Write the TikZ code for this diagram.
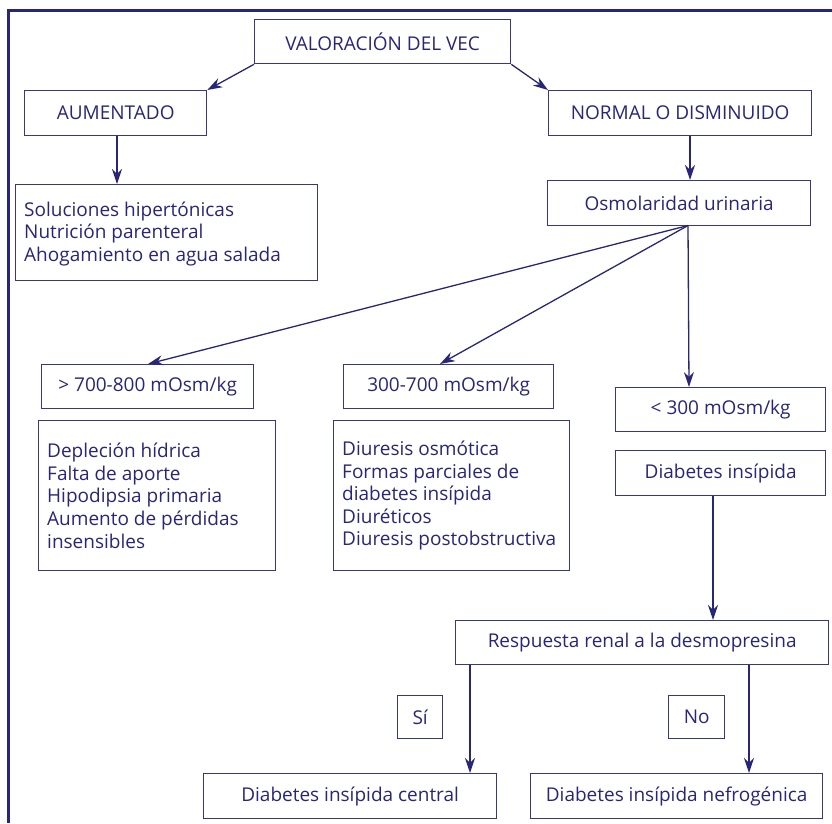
\documentclass[tikz,border=0pt]{standalone}
\usepackage{fontspec}
\setmainfont{Open Sans}
\usetikzlibrary{arrows.meta}
\definecolor{navy}{RGB}{40,38,120}
\definecolor{boxc}{RGB}{55,55,135}
\begin{document}
\begin{tikzpicture}[x=1pt,y=-1pt,
  every node/.style={font=\fontsize{19}{22.6}\selectfont, text=navy},
  bx/.style={draw=boxc, line width=1.3pt, inner sep=0pt, anchor=north west},
  tx/.style={inner sep=0pt, align=left, anchor=west},
  arr/.style={draw=navy, line width=1.3pt, -{Stealth[length=15pt,width=10pt]}}]
\useasboundingbox (0,0) rectangle (832,823);
\draw[navy, line width=3pt] (832,10) -- (8,10) -- (8,823);
% simple boxes: (x1,y1) w h
\node[bx, minimum width=256, minimum height=44] (vec) at (254,19) {VALORACIÓN DEL VEC};
\node[bx, minimum width=182, minimum height=45] (aum) at (24,90) {AUMENTADO};
\node[bx, minimum width=263, minimum height=45] (nor) at (548,90) {NORMAL O DISMINUIDO};
\node[bx, minimum width=263, minimum height=45] (osm) at (547,180) {Osmolaridad urinaria};
\node[bx, minimum width=212, minimum height=44] (h700) at (41,364) {> 700-800 mOsm/kg};
\node[bx, minimum width=210, minimum height=44] (m300) at (343,364) {300-700 mOsm/kg};
\node[bx, minimum width=210, minimum height=44] (l300) at (615,387) {< 300 mOsm/kg};
\node[bx, minimum width=210, minimum height=45] (di) at (615,450) {Diabetes insípida};
\node[bx, minimum width=373, minimum height=44] (resp) at (455,620) {Respuesta renal a la desmopresina};
\node[bx, minimum width=45, minimum height=43] (si) at (397,695) {Sí};
\node[bx, minimum width=56, minimum height=43] (no) at (668,695) {No};
\node[bx, minimum width=293, minimum height=45] (cen) at (203,773) {Diabetes insípida central};
\node[bx, minimum width=292, minimum height=45] (nef) at (530,773) {Diabetes insípida nefrogénica};
% multi-line boxes
\node[bx, minimum width=302, minimum height=96] (sol) at (15,184) {};
\node[tx] (solt) at ([xshift=9pt,yshift=-1pt]sol.west)
  {Soluciones hipertónicas\\Nutrición parenteral\\Ahogamiento en agua salada};
\node[bx, minimum width=237, minimum height=150] (dep) at (38,420) {};
\node[tx] (dept) at ([xshift=9pt]dep.west)
  {Depleción hídrica\\Falta de aporte\\Hipodipsia primaria\\Aumento de pérdidas\\insensibles};
\node[bx, minimum width=236, minimum height=150] (diu) at (333,420) {};
\node[tx] (diut) at ([xshift=9pt]diu.west)
  {Diuresis osmótica\\Formas parciales de\\diabetes insípida\\Diuréticos\\Diuresis postobstructiva};
% connectors
\draw[arr] (vec.south west) -- (aum.north east);
\draw[arr] (vec.south east) -- (nor.north west);
\draw[arr] (aum.south -| 117,0) -- (sol.north -| 117,0);
\draw[arr] (nor.south -| 690,0) -- (osm.north -| 690,0);
\coordinate (o) at (688,225.5);
\draw[arr] (o) -- (h700.north -| 148,0);
\draw[arr] (o) -- (m300.north -| 440,0);
\draw[arr] (o) -- (l300.north -| 689,0);
\draw[arr] (di.south -| 713,0) -- (resp.north -| 713,0);
\draw[arr] (resp.south -| 470,0) -- (cen.north -| 470,0);
\draw[arr] (resp.south -| 749,0) -- (nef.north -| 749,0);
\end{tikzpicture}
\end{document}
